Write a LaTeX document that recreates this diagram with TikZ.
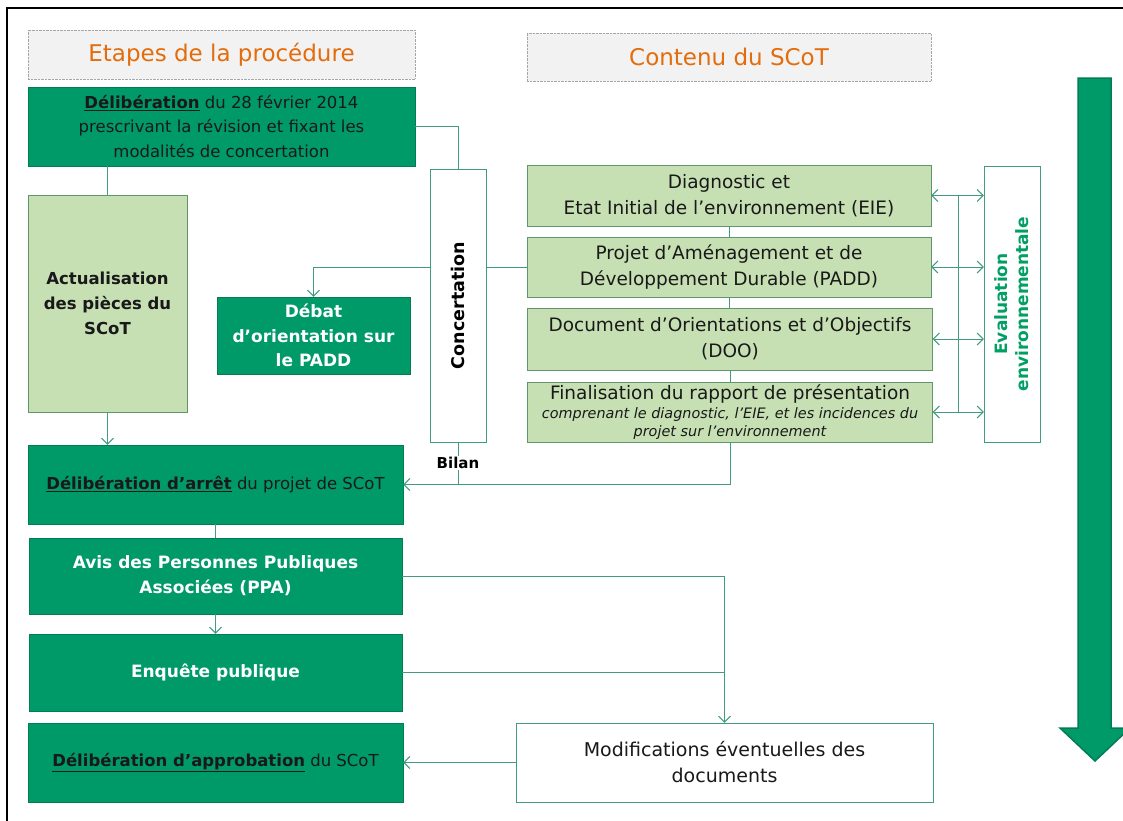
\documentclass[tikz,border=0pt]{standalone}
\usepackage{fontspec}
\setmainfont{DejaVu Sans}
\usepackage{tikz}
\usetikzlibrary{arrows.meta,positioning,calc}
\definecolor{stepGreen}{RGB}{0,154,104}
\definecolor{stepBorder}{RGB}{0,125,85}
\definecolor{lightGreen}{RGB}{198,224,180}
\definecolor{lightBorder}{RGB}{95,150,110}
\definecolor{linkGreen}{RGB}{65,155,128}
\definecolor{procOrange}{RGB}{228,108,10}
\definecolor{headGray}{RGB}{242,242,242}
\definecolor{evalGreen}{RGB}{0,160,100}
\definecolor{darkText}{RGB}{25,25,25}
\tikzstyle{header} = [draw=gray!70, densely dotted, fill=headGray, text=procOrange, font=\fontsize{23}{27}\selectfont, inner sep=0pt]
\tikzstyle{stepDark} = [draw=stepBorder, fill=stepGreen, inner sep=0pt, align=center, font=\fontsize{16.5}{24.5}\selectfont]
\tikzstyle{stepLight} = [draw=lightBorder, fill=lightGreen, inner sep=0pt, align=center, text=darkText, font=\fontsize{18.5}{26}\selectfont]
\tikzstyle{whiteBox} = [draw=linkGreen, fill=white, inner sep=0pt, align=center, text=darkText, font=\fontsize{19}{26}\selectfont]
\tikzstyle{link} = [draw=linkGreen, line width=1pt]
\tikzstyle{arrow} = [link, -{Straight Barb[length=6pt,width=12pt]}]
\tikzstyle{bothArrow} = [link, {Straight Barb[length=6pt,width=12pt]}-{Straight Barb[length=6pt,width=12pt]}]

\begin{document}
\begin{tikzpicture}[x=1pt, y=-1pt]
                    \useasboundingbox (0,0) rectangle (1123,820);
                    \draw [line width=2.5pt] (7,830) -- (7,8) -- (1130,8);
                    \node (etapes) [header, minimum width=387pt, minimum height=49pt] at (221.5,54.5) {Etapes de la procédure};
                    \node (contenu) [header, minimum width=404pt, minimum height=48pt] at (729,57) {Contenu du SCoT};
                    \node (delib) [stepDark, text=darkText, minimum width=387pt, minimum height=79pt] at (221.5,126.5) {\underline{\textbf{Délibération}} du 28 février 2014\\prescrivant la révision et fixant les\\modalités de concertation};
                    \node (actu) [stepLight, minimum width=159pt, minimum height=217pt, font=\fontsize{16.5}{25}\selectfont\bfseries] at (107.5,303.5) {Actualisation\\des pièces du\\SCoT};
                    \node (debat) [stepDark, text=white, minimum width=193pt, minimum height=77pt, font=\fontsize{17}{24.5}\selectfont\bfseries] at (313.5,335.5) {Débat\\d’orientation sur\\le PADD};
                    \node (concert) [whiteBox, minimum width=56pt, minimum height=273pt, label={[rotate=90, font=\fontsize{17.5}{22}\selectfont\bfseries, text=black]center:Concertation}] at (458,305.5) {};
                    \node (diag) [stepLight, minimum width=404pt, minimum height=61pt] at (729,195.5) {Diagnostic et\\Etat Initial de l’environnement (EIE)};
                    \node (padd) [stepLight, minimum width=404pt, minimum height=60pt] at (729,267) {Projet d’Aménagement et de\\Développement Durable (PADD)};
                    \node (doo) [stepLight, minimum width=405pt, minimum height=62pt] at (730,339) {Document d’Orientations et d’Objectifs\\(DOO)};
                    \node (final) [stepLight, minimum width=405pt, minimum height=60pt] at (730,412) {Finalisation du rapport de présentation\\[-7pt]{\fontsize{14.4}{18}\selectfont\itshape comprenant le diagnostic, l’EIE, et les incidences du}\\[-8pt]{\fontsize{14.4}{18}\selectfont\itshape projet sur l’environnement}};
                    \node (evalbox) [whiteBox, minimum width=56pt, minimum height=276pt, label={[rotate=90, align=center, font=\fontsize{17}{21}\selectfont\bfseries, text=evalGreen]center:Evaluation\\environnementale}] at (1012,304) {};
                    \node (bilan) [font=\fontsize{15}{18}\selectfont\bfseries, inner sep=1pt] at (458,463) {Bilan};
                    \node (arret) [stepDark, text=darkText, minimum width=375pt, minimum height=79pt] at (215.5,484.5) {\underline{\textbf{Délibération d’arrêt}} du projet de SCoT};
                    \node (avis) [stepDark, text=white, minimum width=373pt, minimum height=76pt, font=\fontsize{17}{25}\selectfont\bfseries] at (215.5,576) {Avis des Personnes Publiques\\Associées (PPA)};
                    \node (enquete) [stepDark, text=white, minimum width=373pt, minimum height=77pt, font=\fontsize{17}{25}\selectfont\bfseries] at (215.5,672.5) {Enquête publique};
                    \node (approb) [stepDark, text=darkText, minimum width=375pt, minimum height=79pt] at (215.5,762.5) {\underline{\textbf{Délibération d’approbation}} du SCoT};
                    \node (modif) [whiteBox, minimum width=417pt, minimum height=79pt] at (724.5,762.5) {Modifications éventuelles des\\documents};
                    \coordinate (spine) at (958,0);
                    \draw [link] (delib.east) -| (concert.north);
                    \draw [link] (actu.north) -- (actu.north |- delib.south);
                    \draw [arrow] (actu.south) -- (actu.south |- arret.north);
                    \draw [arrow] (concert.west |- padd) -| (debat.north);
                    \draw [link] (concert.east |- padd) -- (padd.west);
                    \draw [link] (diag.south) -- (diag.south |- padd.north);
                    \draw [link] (padd.south) -- (padd.south |- doo.north);
                    \draw [link] (doo.south) -- (doo.south |- final.north);
                    \draw [bothArrow] (diag.east) -- (diag.east -| evalbox.west);
                    \draw [bothArrow] (padd.east) -- (padd.east -| evalbox.west);
                    \draw [bothArrow] (doo.east) -- (doo.east -| evalbox.west);
                    \draw [bothArrow] (final.east) -- (final.east -| evalbox.west);
                    \draw [link] (spine |- diag.east) -- (spine |- final.east);
                    \draw [arrow] (final.south) |- (arret.east);
                    \draw [link] (concert.south) -- (bilan.north);
                    \draw [link] (bilan.south) -- (bilan.south |- arret.east);
                    \draw [link] (arret.south) -- (arret.south |- avis.north);
                    \draw [arrow] (avis.south) -- (avis.south |- enquete.north);
                    \draw [arrow] (avis.east) -| (modif.north);
                    \draw [link] (enquete.east) -- (enquete.east -| modif.north);
                    \draw [arrow] (modif.west) -- (approb.east);
                    \fill [stepGreen, draw=stepBorder, line width=1.5pt] (1078,78) -- (1111,78) -- (1111,728) -- (1130,728) -- (1095,761) -- (1060,728) -- (1078,728) -- cycle;
                \end{tikzpicture}
\end{document}
